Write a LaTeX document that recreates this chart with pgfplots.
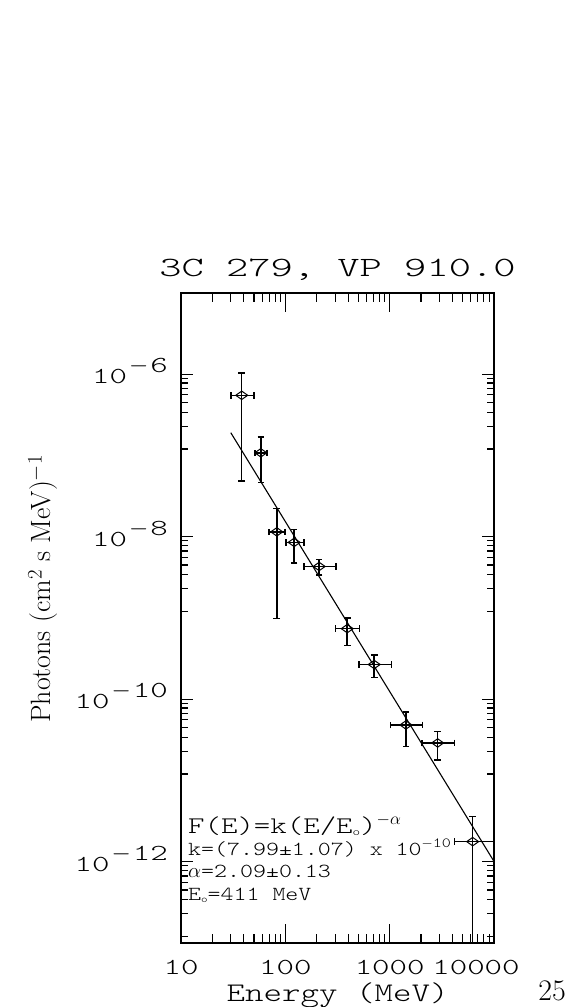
\documentclass[border=0pt]{standalone}
\usepackage{fontspec}
\usepackage{pgfplots}
\pgfplotsset{compat=1.18}
\newfontfamily\hA{lmmonolt10-regular.otf}[FakeStretch=1.45]
\newfontfamily\hT{lmmonolt10-regular.otf}[FakeStretch=1.52]
\newfontfamily\hL{lmmonolt10-regular.otf}[FakeStretch=1.31]
\newfontfamily\hB{lmmonolt10-regular.otf}[FakeStretch=1.24]
\newcommand\fs[1]{\fontsize{#1}{#1}}

\pgfplotstableread{
E      F        exm    exp    eym        eyp
38.2   5.51e-7  8.2    12.0   5.022e-7   4.89e-7
58.2   1.08e-7  7.2    8.8    6.15e-8    6.1e-8
82.8   1.15e-8  12.8   16.7   1.0516e-8  1.09e-8
121.5  8.53e-9  20.5   29.5   3.75e-9    3.77e-9
211    4.31e-9  60     96     9.1e-10    9.5e-10
392    7.40e-10 89     122    2.84e-10   2.6e-10
711    2.68e-10 204    331    8.3e-11    8.5e-11
1432   4.83e-11 411    638    2.2e-11    2.15e-11
2884   2.90e-11 844    1286   1.11e-11   1.09e-11
6245   1.77e-12 2075   8755   1.76e-12   1.83e-12
}\spectrum

\begin{document}
\begin{tikzpicture}
\useasboundingbox (0,0) rectangle (572bp,-1007bp);
\begin{axis}[
  at={(181bp,-943bp)}, anchor=south west,
  scale only axis, width=313bp, height=650bp,
  xmode=log, ymode=log,
  xmin=10, xmax=10000, ymin=1e-13, ymax=1e-5,
  axis line style={line width=1.8bp},
  tick style={line width=1.2bp, black},
  major tick length=12bp, minor tick length=7bp,
  xtick style={/pgfplots/major tick length=19bp, /pgfplots/minor tick length=9bp},
  xtick={10,100,1000,10000},
  xticklabels={10,100,1000,\hspace*{-36bp}10000},
  minor xtick={20,30,40,50,60,70,80,90,200,300,400,500,600,700,800,900,2000,3000,4000,5000,6000,7000,8000,9000},
  ytick={1e-12,1e-10,1e-8,1e-6},
  yticklabels={
    {10\hspace{2bp}\raisebox{11bp}{$-$\hspace{2bp}12}},
    {10\hspace{2bp}\raisebox{11bp}{$-$\hspace{2bp}10}},
    {10\hspace{2bp}\raisebox{11bp}{$-$\hspace{2bp}8}},
    {10\hspace{2bp}\raisebox{11bp}{$-$\hspace{2bp}6}}},
  minor ytick={1.2e-13,2.3e-13,3.4e-13,4.5e-13,5.6e-13,6.7e-13,7.8e-13,8.9e-13,
               1.2e-11,2.3e-11,3.4e-11,4.5e-11,5.6e-11,6.7e-11,7.8e-11,8.9e-11,
               1.2e-9,2.3e-9,3.4e-9,4.5e-9,5.6e-9,6.7e-9,7.8e-9,8.9e-9,
               1.2e-7,2.3e-7,3.4e-7,4.5e-7,5.6e-7,6.7e-7,7.8e-7,8.9e-7},
  xticklabel style={font=\fs{23}\hA, inner sep=0pt, anchor=base, yshift=-31bp},
  yticklabel style={font=\fs{23}\hA, inner sep=0pt, anchor=base east, yshift=-9.5bp, xshift=-13bp},
  title={3C 279, VP 910.0},
  title style={font=\fs{28}\hT, inner sep=0pt, at={(0.5,1)}, anchor=base, yshift=11bp},
  xlabel={Energy (MeV)},
  xlabel style={font=\fs{27}\hL, inner sep=0pt, at={(0.5,0)}, anchor=base, yshift=-58bp},
  ylabel={Photons (cm$^2$ s MeV)$^{-1}$},
  ylabel style={font=\fs{28}\selectfont, at={(-0.441,0.545)}, anchor=center, rotate=0},
  error bars/error bar style={line width=1.5bp, black},
  error bars/error mark options={rotate=90, line width=1.5bp, mark size=3.3bp, black},
]
\addplot[black, only marks, mark=diamond, mark size=4.2bp,
  mark options={xscale=1.9, line width=1bp, black},
  error bars/.cd, x dir=both, x explicit, y dir=both, y explicit]
  table[x=E, y=F, x error plus=exp, x error minus=exm, y error plus=eyp, y error minus=eym]{\spectrum};
\addplot[black, line width=1.1bp] coordinates {(30,1.91e-7) (10000,1.01e-12)};
\node[anchor=base west, inner sep=0pt, font=\fs{24}\hL] at (axis description cs:0.0224,0.1692)
  {F(E)=k(E/E\raisebox{-2bp}{\fs{11}\hL o})\raisebox{9bp}{\fs{16}\hL$-\alpha$}};
\node[anchor=base west, inner sep=0pt, font=\fs{20}\hB] at (axis description cs:0.0224,0.1354)
  {k=(7.99±1.07) x 10\raisebox{8bp}{\fs{14}\hB$-$10}};
\node[anchor=base west, inner sep=0pt, font=\fs{20}\hB] at (axis description cs:0.0224,0.1015)
  {$\alpha$=2.09±0.13};
\node[anchor=base west, inner sep=0pt, font=\fs{20}\hB] at (axis description cs:0.0224,0.0662)
  {E\raisebox{-2bp}{\fs{10}\hB o}=411 MeV};
\end{axis}
\node[anchor=base east, inner sep=0pt, font=\fs{30}\selectfont] at (566bp,-1000bp) {25};
\end{tikzpicture}
\end{document}
